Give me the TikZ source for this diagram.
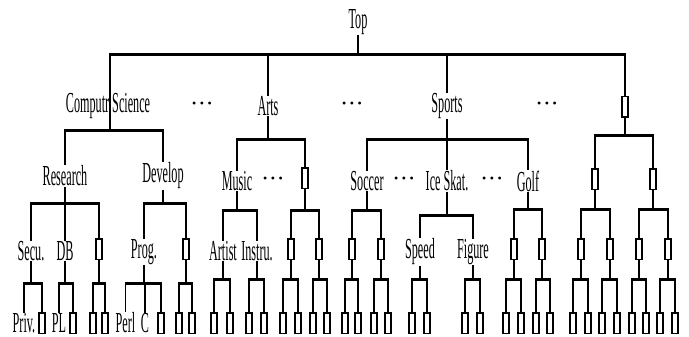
\documentclass[tikz,border=0pt]{standalone}
\usepackage{fontspec}
\setmainfont{Liberation Serif}[FakeStretch=0.42]
\newfontfamily\dotfont{Liberation Serif}
\newcommand\br[5]{%
  \coordinate (#1-bar) at (#1 |- 0,#2);
  \draw[vline] (#1) -- (#1-bar);
  \draw[hbar] (#3 |- #1-bar) -- (#4 |- #1-bar);
  \foreach \kid in {#5} {\draw[vline] (\kid |- #1-bar) -- (\kid);}
}
\begin{document}
\begin{tikzpicture}[x=1pt,y=-1pt,
  lbl/.style={inner sep=0.2pt,font=\fontsize{29}{29}\selectfont},
  bx/.style={draw,line width=1.5pt,fill=white,minimum width=6pt,minimum height=20.5pt,inner sep=0pt},
  vline/.style={line width=1.4pt},
  hbar/.style={line width=3pt,shorten <=-0.7pt,shorten >=-0.7pt},
  dts/.style={inner sep=0pt,font=\dotfont\fontsize{12}{12}\selectfont}]
\useasboundingbox (0,0) rectangle (689,337);
% level 0 and 1
\node[lbl] (top) at (358,22) {Top};
\node[lbl] (cs) at (108,106) {Computr Science};
\node[lbl] (arts) at (268,106) {Arts};
\node[lbl] (sports) at (447,106) {Sports};
\node[bx] (rb) at (625,107) {};
\node[dts] (d1) at (202,105) {\textbullet\hspace{3.5pt}\textbullet\hspace{3.5pt}\textbullet};
\node[dts] (d2) at (352,105) {\textbullet\hspace{3.5pt}\textbullet\hspace{3.5pt}\textbullet};
\node[dts] (d3) at (547,105) {\textbullet\hspace{3.5pt}\textbullet\hspace{3.5pt}\textbullet};
% level 2
\node[lbl] (research) at (65,176) {Research};
\node[lbl] (develop) at (163,176) {Develop};
\node[lbl] (music) at (237,181) {Music};
\node[bx] (ab) at (305,178) {};
\node[lbl] (soccer) at (367,181) {Soccer};
\node[lbl] (ice) at (447,181) {Ice Skat.};
\node[lbl] (golf) at (528,181) {Golf};
\node[bx] (rb1) at (595,179) {};
\node[bx] (rb2) at (653,179) {};
\node[dts] (d4) at (273,180) {\textbullet\hspace{3.5pt}\textbullet\hspace{3.5pt}\textbullet};
\node[dts] (d5) at (404,180) {\textbullet\hspace{3.5pt}\textbullet\hspace{3.5pt}\textbullet};
\node[dts] (d6) at (492,180) {\textbullet\hspace{3.5pt}\textbullet\hspace{3.5pt}\textbullet};
% level 3
\node[lbl] (secu) at (31,251) {Secu.};
\node[lbl] (db) at (65,251) {DB};
\node[bx] (rsb) at (99,249) {};
\node[lbl] (prog) at (144,252) {Prog.};
\node[bx] (dvb) at (186,249) {};
\node[lbl] (artist) at (223,251) {Artist};
\node[lbl] (instru) at (257,251) {Instru.};
\node[bx] (ab1) at (291,249) {};
\node[bx] (ab2) at (319,249) {};
\node[bx] (sc1) at (352,249) {};
\node[bx] (sc2) at (381,249) {};
\node[lbl] (speed) at (420,252) {Speed};
\node[lbl] (figure) at (473,252) {Figure};
\node[bx] (gb1) at (514,249) {};
\node[bx] (gb2) at (542,249) {};
\node[bx] (r11) at (581,249) {};
\node[bx] (r12) at (610,249) {};
\node[bx] (r21) at (639,249) {};
\node[bx] (r22) at (668,249) {};
% level 4
\node[lbl] (priv) at (24,323) {Priv.};
\node[bx] (privb) at (42,323) {};
\node[lbl] (pl) at (59,323) {PL};
\node[bx] (plb) at (73,323) {};
\node[bx] (rs1) at (93,323) {};
\node[bx] (rs2) at (105,323) {};
\node[lbl] (perl) at (125.5,323) {Perl};
\node[lbl] (c) at (145,323) {C};
\node[bx] (progb) at (161,323) {};
\node[bx] (dv1) at (179,323) {};
\node[bx] (dv2) at (192,323) {};
\node[bx] (ar1) at (214,323) {};
\node[bx] (ar2) at (230,323) {};
\node[bx] (in1) at (249,323) {};
\node[bx] (in2) at (264,323) {};
\node[bx] (a11) at (283,323) {};
\node[bx] (a12) at (298,323) {};
\node[bx] (a21) at (313,323) {};
\node[bx] (a22) at (327,323) {};
\node[bx] (s11) at (345,323) {};
\node[bx] (s12) at (358,323) {};
\node[bx] (s21) at (374,323) {};
\node[bx] (s22) at (388,323) {};
\node[bx] (sp1) at (412,323) {};
\node[bx] (sp2) at (427,323) {};
\node[bx] (fg1) at (465,323) {};
\node[bx] (fg2) at (480,323) {};
\node[bx] (g11) at (506,323) {};
\node[bx] (g12) at (521,323) {};
\node[bx] (g21) at (536,323) {};
\node[bx] (g22) at (550,323) {};
\node[bx] (r111) at (573,323) {};
\node[bx] (r112) at (588,323) {};
\node[bx] (r121) at (602,323) {};
\node[bx] (r122) at (617,323) {};
\node[bx] (r211) at (632,323) {};
\node[bx] (r212) at (646,323) {};
\node[bx] (r221) at (660,323) {};
\node[bx] (r222) at (675,323) {};
% branches
\coordinate (csx) at (110,0);
\coordinate (top-bar) at (top |- 0,55);
\draw[vline] (top) -- (top-bar);
\draw[hbar] (csx |- top-bar) -- (rb |- top-bar);
\foreach \kid in {arts,sports,rb} {\draw[vline] (\kid |- top-bar) -- (\kid);}
\coordinate (cs-bar) at (csx |- 0,131);
\draw[vline] (csx |- top-bar) -- (cs-bar);
\draw[hbar] (research |- cs-bar) -- (develop |- cs-bar);
\foreach \kid in {research,develop} {\draw[vline] (\kid |- cs-bar) -- (\kid);}
\br{arts}{140}{music}{ab}{music,ab}
\br{sports}{140}{soccer}{golf}{soccer,ice,golf}
\br{rb}{136}{rb1}{rb2}{rb1,rb2}
\br{research}{203}{secu}{rsb}{secu,db,rsb}
\br{develop}{203}{prog}{dvb}{prog,dvb}
\br{music}{210}{artist}{instru}{artist,instru}
\br{ab}{210}{ab1}{ab2}{ab1,ab2}
\br{soccer}{210}{sc1}{sc2}{sc1,sc2}
\br{ice}{215}{speed}{figure}{speed,figure}
\br{golf}{209}{gb1}{gb2}{gb1,gb2}
\br{rb1}{209}{r11}{r12}{r11,r12}
\br{rb2}{209}{r21}{r22}{r21,r22}
\br{secu}{283}{priv}{privb}{priv,privb}
\br{db}{283}{pl}{plb}{pl,plb}
\br{rsb}{283}{rs1}{rs2}{rs1,rs2}
\br{prog}{283}{perl}{progb}{perl,c,progb}
\br{dvb}{283}{dv1}{dv2}{dv1,dv2}
\br{artist}{279}{ar1}{ar2}{ar1,ar2}
\br{instru}{279}{in1}{in2}{in1,in2}
\br{ab1}{279}{a11}{a12}{a11,a12}
\br{ab2}{279}{a21}{a22}{a21,a22}
\br{sc1}{279}{s11}{s12}{s11,s12}
\br{sc2}{279}{s21}{s22}{s21,s22}
\br{speed}{279}{sp1}{sp2}{sp1,sp2}
\br{figure}{279}{fg1}{fg2}{fg1,fg2}
\br{gb1}{279}{g11}{g12}{g11,g12}
\br{gb2}{279}{g21}{g22}{g21,g22}
\br{r11}{279}{r111}{r112}{r111,r112}
\br{r12}{279}{r121}{r122}{r121,r122}
\br{r21}{279}{r211}{r212}{r211,r212}
\br{r22}{279}{r221}{r222}{r221,r222}
\end{tikzpicture}
\end{document}
